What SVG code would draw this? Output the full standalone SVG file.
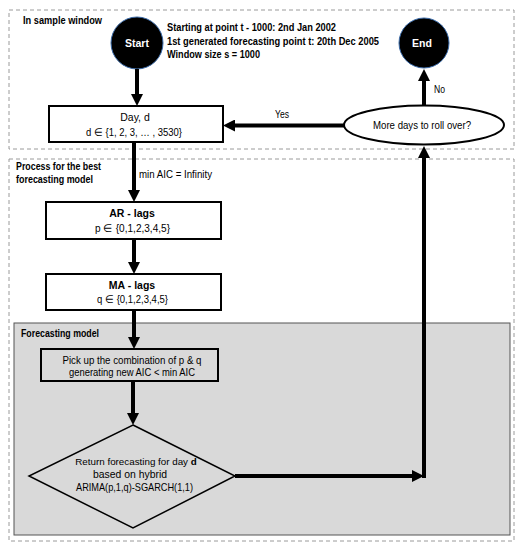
<svg xmlns="http://www.w3.org/2000/svg" width="524" height="550" viewBox="0 0 524 550">
<defs>
<marker id="ah" viewBox="0 0 12 12" markerWidth="12" markerHeight="12" markerUnits="userSpaceOnUse" refX="1" refY="6" orient="auto">
<path d="M0,0 L12,6 L0,12 z" fill="#000"/>
</marker>
</defs>
<style>
.t{font-family:"Liberation Sans",Arial,sans-serif;font-size:10.5px;fill:#000}
.b{font-weight:bold}
.w{fill:#fff}
.dash{fill:none;stroke:#9a9a9a;stroke-width:1;stroke-dasharray:4,3}
.box{fill:#fff;stroke:#000;stroke-width:2}
.gbox{fill:#d9d9d9;stroke:#000;stroke-width:2}
.circ{fill:#000;stroke:#3a6aa8;stroke-width:1}
.ca{fill:none;stroke:#000;stroke-width:4;marker-end:url(#ah)}
</style>
<rect width="524" height="550" fill="#fff"/>
<g id="in-sample-window">
<rect class="dash" x="9" y="10" width="505" height="139"/>
<text class="t b" x="23" y="24" textLength="79" lengthAdjust="spacingAndGlyphs">In sample window</text>
<text class="t b" x="167" y="31" textLength="169" lengthAdjust="spacingAndGlyphs">Starting at point t - 1000: 2nd Jan 2002</text>
<text class="t b" x="167" y="45" textLength="212" lengthAdjust="spacingAndGlyphs">1st generated forecasting point t: 20th Dec 2005</text>
<text class="t b" x="167" y="58" textLength="93" lengthAdjust="spacingAndGlyphs">Window size s = 1000</text>
</g>
<g id="process-region">
<rect class="dash" x="9" y="159" width="505" height="382"/>
<text class="t b" x="16" y="170" textLength="85" lengthAdjust="spacingAndGlyphs">Process for the best</text>
<text class="t b" x="16" y="183" textLength="77" lengthAdjust="spacingAndGlyphs">forecasting model</text>
</g>
<g id="forecasting-model-region">
<rect x="14" y="323" width="496" height="212" fill="#d9d9d9" stroke="#555" stroke-width="1"/>
<text class="t b" x="21" y="337" textLength="78" lengthAdjust="spacingAndGlyphs">Forecasting model</text>
</g>
<g id="start">
<circle class="circ" cx="137" cy="43" r="26"/>
<text class="t b w" x="137" y="47" text-anchor="middle">Start</text>
</g>
<g id="end">
<circle class="circ" cx="424" cy="43" r="25"/>
<text class="t b w" x="422" y="47" text-anchor="middle">End</text>
</g>
<g id="day">
<rect class="box" x="49" y="106" width="174" height="36"/>
<text class="t" x="135" y="121" text-anchor="middle">Day, d</text>
<text class="t" x="134" y="136" text-anchor="middle" textLength="96" lengthAdjust="spacingAndGlyphs">d ∈ {1, 2, 3, … , 3530}</text>
</g>
<g id="more-days">
<ellipse cx="424" cy="125" rx="80" ry="19.5" fill="#fff" stroke="#000" stroke-width="2"/>
<text class="t" x="422" y="129" text-anchor="middle" textLength="98" lengthAdjust="spacingAndGlyphs">More days to roll over?</text>
</g>
<g id="ar-lags">
<rect class="box" x="46" y="202" width="175" height="37"/>
<text class="t b" x="132" y="217" text-anchor="middle">AR - lags</text>
<text class="t" x="132.5" y="232" text-anchor="middle" textLength="75" lengthAdjust="spacingAndGlyphs">p ∈  {0,1,2,3,4,5}</text>
</g>
<g id="ma-lags">
<rect class="box" x="46" y="274" width="175" height="36"/>
<text class="t b" x="132" y="289" text-anchor="middle">MA - lags</text>
<text class="t" x="132.5" y="303" text-anchor="middle" textLength="71" lengthAdjust="spacingAndGlyphs">q ∈ {0,1,2,3,4,5}</text>
</g>
<g id="pick">
<rect class="gbox" x="41" y="349" width="177" height="32"/>
<text class="t" x="132" y="364" text-anchor="middle" textLength="139" lengthAdjust="spacingAndGlyphs">Pick up the combination of p &amp; q</text>
<text class="t" x="132" y="376" text-anchor="middle" textLength="126" lengthAdjust="spacingAndGlyphs">generating new AIC &lt; min AIC</text>
</g>
<g id="return-forecast">
<path d="M133,425 L235,476 L133,528 L29,476 z" fill="#d9d9d9" stroke="#000" stroke-width="1.5"/>
<text class="t" x="136" y="465" text-anchor="middle" style="font-size:9.8px">Return forecasting for day <tspan class="b">d</tspan></text>
<text class="t" x="130" y="478" text-anchor="middle" textLength="74" lengthAdjust="spacingAndGlyphs">based on hybrid</text>
<text class="t" x="134.5" y="491" text-anchor="middle" textLength="117" lengthAdjust="spacingAndGlyphs">ARIMA(p,1,q)-SGARCH(1,1)</text>
</g>
<g id="connectors">
<line class="ca" x1="137" y1="69" x2="137" y2="95"/>
<line class="ca" x1="344" y1="125.5" x2="234" y2="125.5"/>
<text class="t" x="275" y="118" textLength="14" lengthAdjust="spacingAndGlyphs">Yes</text>
<line class="ca" x1="424" y1="105" x2="424" y2="80"/>
<text class="t" x="434" y="93" textLength="11" lengthAdjust="spacingAndGlyphs">No</text>
<line class="ca" x1="134" y1="142" x2="134" y2="191"/>
<text class="t" x="139" y="178" textLength="73" lengthAdjust="spacingAndGlyphs">min AIC = Infinity</text>
<line class="ca" x1="134" y1="239" x2="134" y2="263"/>
<line class="ca" x1="134" y1="310" x2="134" y2="338"/>
<line class="ca" x1="133" y1="381" x2="133" y2="414"/>
<line class="ca" x1="235" y1="476" x2="413" y2="476"/>
<line class="ca" x1="424" y1="478" x2="424" y2="157"/>
</g>
</svg>
